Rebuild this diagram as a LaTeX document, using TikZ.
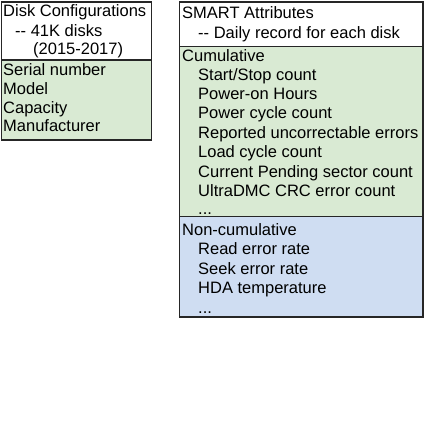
\documentclass[tikz,border=0pt]{standalone}
\usepackage{fontspec}
\setmainfont{Liberation Sans}
\definecolor{cumgreen}{RGB}{217,234,211}
\definecolor{noncumblue}{RGB}{207,221,242}
\begin{document}
\begin{tikzpicture}[x=1pt,y=-1pt,
  box/.style={draw=black!85, line width=1.4pt},
  item/.style={anchor=base west, inner sep=0pt, font=\fontsize{16.5}{19.7}\selectfont}]
\useasboundingbox (0,0) rectangle (426,432);

% disk configurations
\fill[white] (1.5,2) rectangle (151.5,60);
\fill[cumgreen] (1.5,60) rectangle (151.5,140);
\draw[box] (1.5,2) rectangle (151.5,140);
\draw[box] (1.5,60) -- (151.5,60);
\node[item] (cfgtitle) at (3,16.5) {Disk Configurations};
\node[item] (cfgcount) at (15,36) {-{}- 41K disks};
\node[item] (cfgyears) at (33,54.5) {(2015-2017)};
\node[item] (serial) at (3,75.5) {Serial number};
\node[item] (model) at (3,94.5) {Model};
\node[item] (capacity) at (3,113) {Capacity};
\node[item] (maker) at (3,131.5) {Manufacturer};

% smart attributes
\fill[white] (179.5,2) rectangle (423,46.5);
\fill[cumgreen] (179.5,46.5) rectangle (423,216.5);
\fill[noncumblue] (179.5,216.5) rectangle (423,317);
\draw[box] (179.5,2) rectangle (423,317);
\draw[box] (179.5,46.5) -- (423,46.5);
\draw[box] (179.5,216.5) -- (423,216.5);
\node[item] (smarttitle) at (182,18) {SMART Attributes};
\node[item] (smartsub) at (198,38) {-{}- Daily record for each disk};
\node[item] (cumhead) at (182,61) {Cumulative};
\node[item] (startstop) at (198,80) {Start/Stop count};
\node[item] (poweron) at (198,99) {Power-on Hours};
\node[item] (powercycle) at (198,118.5) {Power cycle count};
\node[item] (uncorr) at (198,138) {Reported uncorrectable errors};
\node[item] (loadcycle) at (198,157.5) {Load cycle count};
\node[item] (pending) at (198,177) {Current Pending sector count};
\node[item] (crc) at (198,196) {UltraDMC CRC error count};
\node[item] (cummore) at (198,214.5) {...};
\node[item] (noncumhead) at (182,235.5) {Non-cumulative};
\node[item] (readerr) at (198,254.5) {Read error rate};
\node[item] (seekerr) at (198,274) {Seek error rate};
\node[item] (hdatemp) at (198,293.5) {HDA temperature};
\node[item] (noncummore) at (198,313) {...};
\end{tikzpicture}
\end{document}
